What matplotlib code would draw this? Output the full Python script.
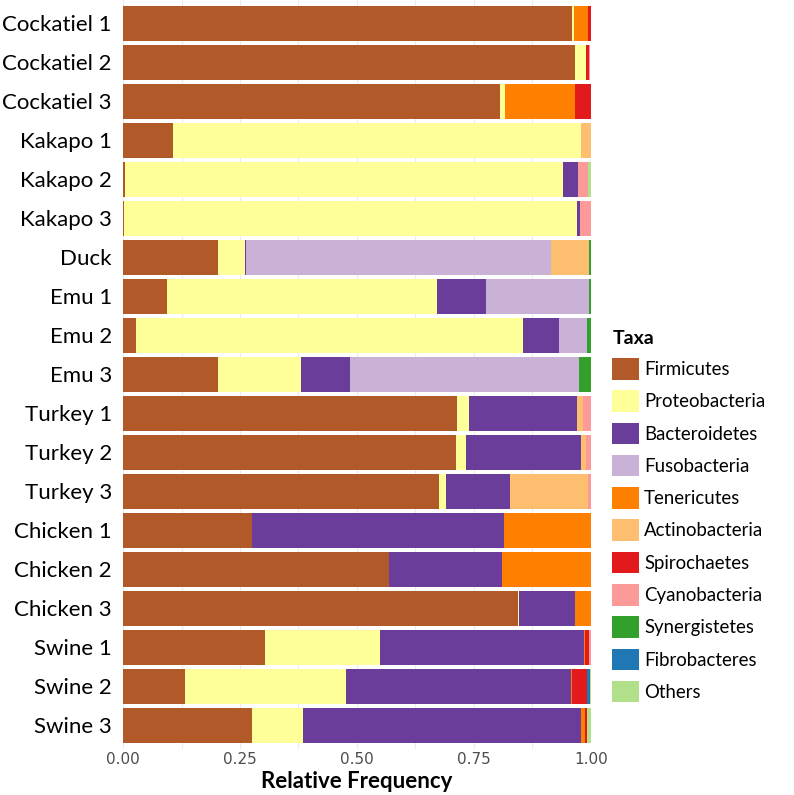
import matplotlib
matplotlib.use('Agg')
import matplotlib.pyplot as plt
from matplotlib.patches import Patch
import numpy as np

plt.rcParams['font.family'] = ['Lato', 'DejaVu Sans']

samples = ['Cockatiel 1', 'Cockatiel 2', 'Cockatiel 3', 'Kakapo 1', 'Kakapo 2', 'Kakapo 3',
           'Duck', 'Emu 1', 'Emu 2', 'Emu 3', 'Turkey 1', 'Turkey 2', 'Turkey 3',
           'Chicken 1', 'Chicken 2', 'Chicken 3', 'Swine 1', 'Swine 2', 'Swine 3']

taxa = ['Firmicutes', 'Proteobacteria', 'Bacteroidetes', 'Fusobacteria', 'Tenericutes',
        'Actinobacteria', 'Spirochaetes', 'Cyanobacteria', 'Synergistetes', 'Fibrobacteres', 'Others']

colors = ['#B15928', '#FFFF99', '#6A3D9A', '#CAB2D6', '#FF7F00',
          '#FDBF6F', '#E31A1C', '#FB9A99', '#33A02C', '#1F78B4', '#B2DF8A']

# relative frequencies per taxon, one value per sample (same order as samples)
firmicutes     = [0.959, 0.966, 0.806, 0.107, 0.004, 0.003, 0.203, 0.095, 0.028, 0.202, 0.714, 0.712, 0.675, 0.276, 0.568, 0.845, 0.303, 0.132, 0.275]
proteobacteria = [0.006, 0.023, 0.011, 0.873, 0.936, 0.968, 0.058, 0.577, 0.827, 0.178, 0.026, 0.021, 0.016, 0.000, 0.000, 0.002, 0.246, 0.344, 0.110]
bacteroidetes  = [0.000, 0.000, 0.000, 0.000, 0.033, 0.007, 0.002, 0.104, 0.077, 0.105, 0.231, 0.247, 0.136, 0.539, 0.242, 0.120, 0.437, 0.481, 0.595]
fusobacteria   = [0.000, 0.000, 0.000, 0.000, 0.000, 0.000, 0.652, 0.220, 0.061, 0.489, 0.000, 0.000, 0.000, 0.000, 0.000, 0.000, 0.000, 0.000, 0.000]
tenericutes    = [0.030, 0.000, 0.150, 0.000, 0.000, 0.000, 0.000, 0.000, 0.000, 0.000, 0.000, 0.000, 0.000, 0.185, 0.190, 0.033, 0.002, 0.002, 0.008]
actinobacteria = [0.000, 0.000, 0.000, 0.020, 0.000, 0.000, 0.082, 0.000, 0.000, 0.000, 0.013, 0.009, 0.167, 0.000, 0.000, 0.000, 0.000, 0.000, 0.000]
spirochaetes   = [0.005, 0.008, 0.033, 0.000, 0.000, 0.000, 0.000, 0.000, 0.000, 0.000, 0.000, 0.000, 0.000, 0.000, 0.000, 0.000, 0.009, 0.032, 0.004]
cyanobacteria  = [0.000, 0.002, 0.000, 0.000, 0.021, 0.022, 0.000, 0.000, 0.000, 0.000, 0.016, 0.011, 0.006, 0.000, 0.000, 0.000, 0.003, 0.000, 0.000]
synergistetes  = [0.000, 0.000, 0.000, 0.000, 0.000, 0.000, 0.003, 0.004, 0.007, 0.026, 0.000, 0.000, 0.000, 0.000, 0.000, 0.000, 0.000, 0.000, 0.000]
fibrobacteres  = [0.000, 0.000, 0.000, 0.000, 0.000, 0.000, 0.000, 0.000, 0.000, 0.000, 0.000, 0.000, 0.000, 0.000, 0.000, 0.000, 0.000, 0.007, 0.000]
others         = [0.000, 0.000, 0.000, 0.000, 0.006, 0.000, 0.000, 0.000, 0.000, 0.000, 0.000, 0.000, 0.000, 0.000, 0.000, 0.000, 0.000, 0.002, 0.008]

series = [firmicutes, proteobacteria, bacteroidetes, fusobacteria, tenericutes,
          actinobacteria, spirochaetes, cyanobacteria, synergistetes, fibrobacteres, others]

fig = plt.figure(figsize=(7.94, 7.95), dpi=100)
ax = fig.add_axes([0.155, 0.058, 0.589, 0.942])

y = np.arange(len(samples))[::-1]
left = np.zeros(len(samples))
for name, vals, col in zip(taxa, series, colors):
    vals = np.array(vals)
    ax.barh(y, vals, left=left, height=0.9, color=col, label=name, zorder=2)
    left += vals

ax.set_xlim(0, 1)
ax.set_ylim(-0.6, len(samples) - 0.4)
ax.set_yticks(y)
ax.set_yticklabels(samples, fontsize=16, color='black')
ax.set_xticks([0, 0.25, 0.5, 0.75, 1.0])
ax.set_xticklabels(['0.00', '0.25', '0.50', '0.75', '1.00'], fontsize=11, color='#4D4D4D',
                   family='DejaVu Sans')
ax.set_xticks([0.125, 0.375, 0.625, 0.875], minor=True)
ax.tick_params(axis='y', length=0, pad=8)
ax.tick_params(axis='x', which='both', length=0, pad=2)
ax.grid(axis='x', which='both', color='#EBEBEB', linewidth=0.8, zorder=0)
for s in ax.spines.values():
    s.set_visible(False)
ax.set_xlabel('Relative Frequency', fontsize=16, fontweight='bold', labelpad=3)

handles = [Patch(facecolor=c, edgecolor='none') for c in colors]
leg = fig.legend(handles, taxa, loc='upper left', bbox_to_anchor=(0.762, 0.594),
                 frameon=False, fontsize=13.4, title='Taxa', alignment='left',
                 handlelength=1.4, handleheight=1.4, labelspacing=0.58,
                 handletextpad=0.3, borderaxespad=0)
leg.get_title().set_fontweight('bold')
leg.get_title().set_fontsize(14)

fig.savefig('out.png', dpi=100)
